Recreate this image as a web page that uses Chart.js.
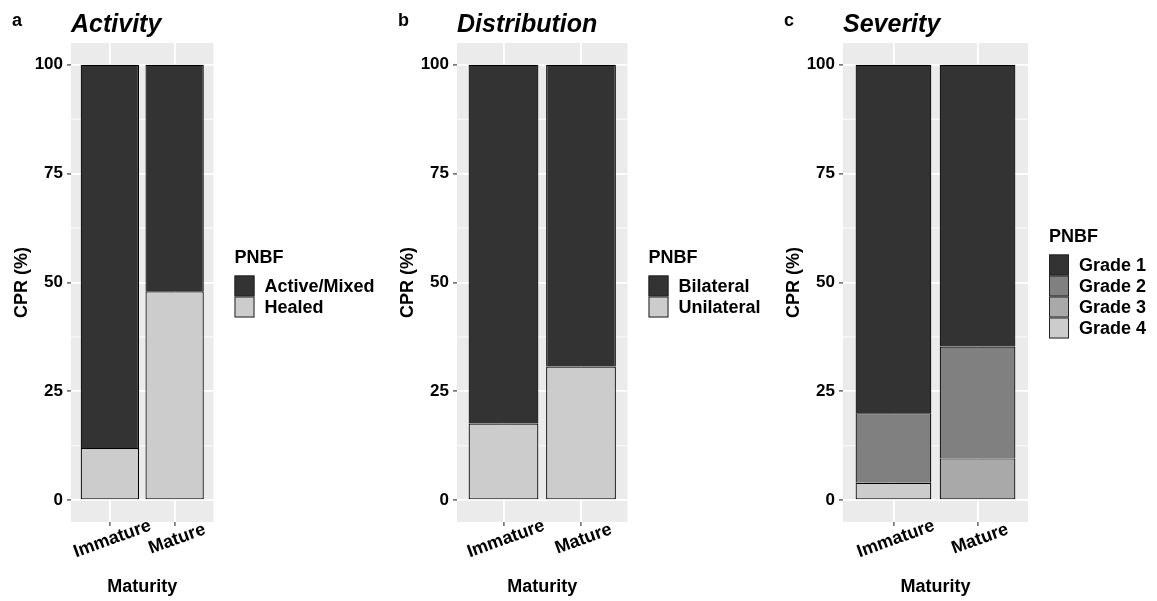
<!DOCTYPE html>
<html>
<head>
<meta charset="utf-8">
<script src="https://cdn.jsdelivr.net/npm/chart.js@4"></script>
<style>
  body { margin: 0; background: #fff; }
  canvas { position: absolute; top: 0; }
</style>
</head>
<body>
<canvas id="activity" width="386" height="601" style="left:0"></canvas>
<canvas id="distribution" width="386" height="601" style="left:386px"></canvas>
<canvas id="severity" width="385" height="601" style="left:772px"></canvas>
<script>
const maturity = ['Immature', 'Mature'];
const legendTitle = 'PNBF';
const yTicks = [0, 25, 50, 75, 100];
const yMinor = [12.5, 37.5, 62.5, 87.5];

// a - activity
const activityLevels = ['Active/Mixed', 'Healed'];
const activeMixed = [88, 52];
const healed = [12, 48];

// b - distribution
const distributionLevels = ['Bilateral', 'Unilateral'];
const bilateral = [82.4, 69.3];
const unilateral = [17.6, 30.7];

// c - severity
const severityLevels = ['Grade 1', 'Grade 2', 'Grade 3', 'Grade 4'];
const grade1 = [80, 64.7];
const grade2 = [16, 25.7];
const grade3 = [0, 9.6];
const grade4 = [4, 0];

const FONT = '"Liberation Sans", Arial, sans-serif';
const greys2 = ['#333333', '#cccccc'];
const greys4 = ['#333333', '#808080', '#a9a9a9', '#cccccc'];

// panel background, minor grid, titles, rotated category labels and legend
const decorations = {
  id: 'decorations',
  beforeDraw(chart) {
    const {ctx, chartArea: a} = chart;
    ctx.save();
    ctx.fillStyle = '#ebebeb';
    ctx.fillRect(a.left, a.top, a.right - a.left, a.bottom - a.top);
    ctx.restore();
  },
  beforeDatasetsDraw(chart) {
    const {ctx, chartArea: a, scales: {y}} = chart;
    ctx.save();
    ctx.strokeStyle = '#ffffff';
    ctx.lineWidth = 0.9;
    yMinor.forEach(v => {
      const py = y.getPixelForValue(v);
      ctx.beginPath();
      ctx.moveTo(a.left, py);
      ctx.lineTo(a.right, py);
      ctx.stroke();
    });
    ctx.restore();
  },
  afterDraw(chart, args, o) {
    const {ctx, chartArea: a, scales: {x}} = chart;
    ctx.save();
    ctx.fillStyle = '#000';
    ctx.textBaseline = 'alphabetic';
    ctx.font = `bold 18px ${FONT}`;
    ctx.fillText(o.letter, 12, 26);
    ctx.font = `italic bold 25px ${FONT}`;
    ctx.fillText(o.title, a.left, 32);

    ctx.font = `bold 18px ${FONT}`;
    ctx.textAlign = 'center';
    ctx.textBaseline = 'middle';
    maturity.forEach((lab, i) => {
      ctx.save();
      ctx.translate(x.getPixelForValue(i + 1) + 2.5, a.bottom + 17);
      ctx.rotate(-20 * Math.PI / 180);
      ctx.fillText(lab, 0, 0);
      ctx.restore();
    });

    const items = chart.data.datasets.slice().reverse();
    const keyW = 20, keyH = 21;
    const lx = a.right + 21;
    const top = (a.top + a.bottom) / 2 + 2 - (24 + keyH * items.length) / 2;
    ctx.textAlign = 'left';
    ctx.fillText(legendTitle, lx, top + 7);
    items.forEach((ds, k) => {
      const ky = top + 24 + k * keyH;
      ctx.fillStyle = ds.backgroundColor;
      ctx.fillRect(lx, ky, keyW, keyH);
      ctx.strokeStyle = '#222';
      ctx.lineWidth = 1;
      ctx.strokeRect(lx + 0.5, ky + 0.5, keyW - 1, keyH - 1);
      ctx.fillStyle = '#000';
      ctx.fillText(ds.label, lx + 30, ky + keyH / 2 + 1);
    });
    ctx.restore();
  }
};

// series are listed top-to-bottom; Chart.js stacks the first dataset at the bottom
function panel(id, letter, title, levels, series, fills, rightPad) {
  const datasets = series.map((vals, k) => ({
    label: levels[k],
    data: vals.map((v, i) => ({x: i + 1, y: v})),
    backgroundColor: fills[k],
    borderColor: '#000',
    borderWidth: ctx => {
      const below = ctx.chart.data.datasets.slice(0, ctx.datasetIndex)
        .reduce((s, d) => s + d.data[ctx.dataIndex].y, 0);
      return {top: 1.2, left: 1.2, right: 1.2, bottom: below === 0 ? 1.2 : 0};
    },
    borderSkipped: false,
    inflateAmount: 0,
    barPercentage: 0.9,
    categoryPercentage: 1
  })).reverse();

  new Chart(document.getElementById(id), {
    type: 'bar',
    data: {datasets},
    plugins: [decorations],
    options: {
      responsive: false,
      animation: false,
      devicePixelRatio: 1,
      layout: {padding: {left: 0, top: 43, right: rightPad, bottom: 0}},
      plugins: {
        legend: {display: false},
        tooltip: {enabled: false},
        decorations: {letter, title}
      },
      scales: {
        x: {
          type: 'linear',
          stacked: true,
          offset: false,
          min: 0.4,
          max: 2.6,
          afterBuildTicks: s => { s.ticks = maturity.map((m, i) => ({value: i + 1})); },
          afterFit: s => { s.height = 79; },
          ticks: {display: false},
          grid: {offset: false, color: '#ffffff', lineWidth: 1.8, tickLength: 4, tickColor: '#4d4d4d', tickWidth: 1.3},
          border: {display: false},
          title: {display: true, text: 'Maturity', color: '#000',
                  font: {family: FONT, size: 18, weight: 'bold'}, padding: {top: 0, bottom: 3}}
        },
        y: {
          stacked: true,
          min: -5,
          max: 105,
          afterBuildTicks: s => { s.ticks = yTicks.map(v => ({value: v})); },
          afterFit: s => { s.width = 71; },
          ticks: {color: '#000', padding: 4, font: {family: FONT, size: 17, weight: 'bold'}},
          grid: {color: '#ffffff', lineWidth: 1.8, tickLength: 4, tickColor: '#4d4d4d', tickWidth: 1.3},
          border: {display: false},
          title: {display: true, text: 'CPR (%)', color: '#000',
                  font: {family: FONT, size: 18, weight: 'bold'}, padding: {top: 11, bottom: 0}}
        }
      }
    }
  });
}

panel('activity', 'a', 'Activity', activityLevels, [activeMixed, healed], greys2, 172.5);
panel('distribution', 'b', 'Distribution', distributionLevels, [bilateral, unilateral], greys2, 144.5);
panel('severity', 'c', 'Severity', severityLevels, [grade1, grade2, grade3, grade4], greys4, 129);
</script>
</body>
</html>
